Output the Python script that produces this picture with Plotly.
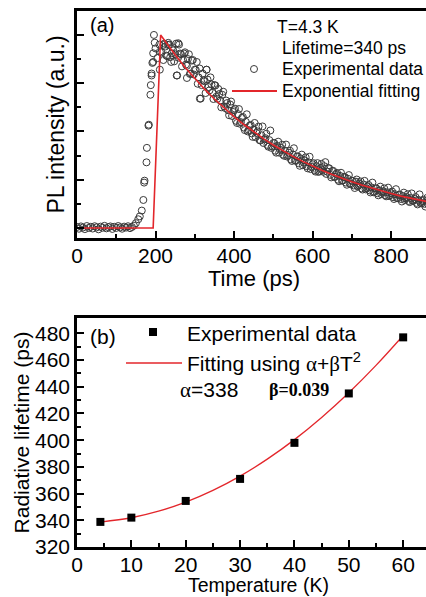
import plotly.graph_objects as go

# ---------------- data: panel (a) ----------------
exp_time = [0, 5, 10, 15, 20, 25, 30, 35, 40, 45, 50, 55, 60, 65, 70, 75, 80, 85, 90, 95,
            100, 105, 110, 115, 120, 125, 130, 135, 140, 145,
            150, 156, 160, 165, 169, 171, 172, 177, 178, 182, 183, 187, 188, 190, 192, 194, 196, 198,
            194, 190, 211, 211, 220, 232, 241, 258, 254, 280, 313, 330,
            200, 205, 210, 215, 220, 225, 230, 235, 240, 245, 250, 255, 260, 265, 270, 275, 280, 285, 290, 295,
            300, 305, 310, 315, 320, 325, 330, 335, 340, 345, 350, 355, 360, 365, 370, 375, 380, 385, 390, 395,
            400, 405, 410, 415, 420, 425, 430, 435, 440, 445, 450, 455, 460, 465, 470, 475, 480, 485, 490, 495,
            500, 505, 510, 515, 520, 525, 530, 535, 540, 545, 550, 555, 560, 565, 570, 575, 580, 585, 590, 595,
            600, 605, 610, 615, 620, 625, 630, 635, 640, 645, 650, 655, 660, 665, 670, 675, 680, 685, 690, 695,
            700, 705, 710, 715, 720, 725, 730, 735, 740, 745, 750, 755, 760, 765, 770, 775, 780, 785, 790, 795,
            800, 805, 810, 815, 820, 825, 830, 835, 840, 845, 850, 855, 860, 865, 870, 875, 880, 885, 890, 895, 900]
exp_intensity = [0.005, -0.004, 0.008, 0.002, -0.006, 0.010, 0.000, 0.006, -0.003, 0.009,
                 0.003, -0.007, 0.007, 0.001, 0.011, -0.002, 0.004, 0.008, -0.005, 0.006,
                 0.000, 0.010, 0.003, -0.004, 0.007, 0.002, 0.009, -0.001, 0.005, 0.012,
                 0.025, 0.045, 0.060, 0.090, 0.145, 0.235, 0.245, 0.340, 0.415, 0.530, 0.535, 0.690, 0.740, 0.800, 0.855, 0.905, 1.000, 0.960,
                 0.860, 0.790, 0.820, 0.913, 0.948, 0.948, 0.905, 0.957, 0.790, 0.777, 0.670, 0.820,
                 0.93, 0.88, 0.95, 0.91, 0.87, 0.94, 0.89, 0.95, 0.86, 0.92, 0.90, 0.79, 0.95, 0.90, 0.87, 0.91, 0.84, 0.90, 0.80, 0.87,
                 0.82, 0.86, 0.78, 0.67, 0.80, 0.76, 0.82, 0.73, 0.78, 0.70, 0.74, 0.68, 0.72, 0.66, 0.69, 0.63, 0.66, 0.61, 0.64, 0.58,
                 0.61, 0.555, 0.59, 0.54, 0.57, 0.52, 0.55, 0.50, 0.53, 0.49, 0.51, 0.47, 0.50, 0.455, 0.48, 0.44, 0.465, 0.43, 0.455, 0.415,
                 0.44, 0.40, 0.425, 0.39, 0.415, 0.38, 0.40, 0.37, 0.39, 0.355, 0.38, 0.35, 0.37, 0.335, 0.36, 0.325, 0.35, 0.32, 0.34, 0.305,
                 0.33, 0.30, 0.32, 0.29, 0.31, 0.30, 0.32, 0.28, 0.31, 0.275, 0.295, 0.265, 0.28, 0.25, 0.27, 0.245, 0.265, 0.235, 0.255, 0.23,
                 0.245, 0.22, 0.24, 0.215, 0.23, 0.205, 0.225, 0.20, 0.215, 0.195, 0.21, 0.185, 0.205, 0.18, 0.195, 0.175, 0.19, 0.17, 0.185, 0.165,
                 0.18, 0.16, 0.175, 0.155, 0.17, 0.15, 0.165, 0.145, 0.16, 0.14, 0.155, 0.14, 0.15, 0.13, 0.145, 0.13, 0.14, 0.125, 0.14, 0.12, 0.135]

# second (interleaved) set of recorded points in the decay region
exp_time_b = [222.5, 227.5, 232.5, 237.5, 242.5, 247.5, 252.5, 257.5, 262.5, 267.5,
              272.5, 277.5, 282.5, 287.5, 292.5, 297.5, 302.5, 307.5, 312.5, 317.5,
              322.5, 327.5, 332.5, 337.5, 342.5, 347.5, 352.5, 357.5, 362.5, 367.5,
              372.5, 377.5, 382.5, 387.5, 392.5, 397.5, 402.5, 407.5, 412.5, 417.5,
              422.5, 427.5, 432.5, 437.5, 442.5, 447.5, 452.5, 457.5, 462.5, 467.5,
              472.5, 477.5, 482.5, 487.5, 492.5, 497.5, 502.5, 507.5, 512.5, 517.5,
              522.5, 527.5, 532.5, 537.5, 542.5, 547.5, 552.5, 557.5, 562.5, 567.5,
              572.5, 577.5, 582.5, 587.5, 592.5, 597.5, 602.5, 607.5, 612.5, 617.5,
              622.5, 627.5, 632.5, 637.5, 642.5, 647.5, 652.5, 657.5, 662.5, 667.5,
              672.5, 677.5, 682.5, 687.5, 692.5, 697.5, 702.5, 707.5, 712.5, 717.5,
              722.5, 727.5, 732.5, 737.5, 742.5, 747.5, 752.5, 757.5, 762.5, 767.5,
              772.5, 777.5, 782.5, 787.5, 792.5, 797.5, 802.5, 807.5, 812.5, 817.5,
              822.5, 827.5, 832.5, 837.5, 842.5, 847.5, 852.5, 857.5, 862.5, 867.5,
              872.5, 877.5, 882.5, 887.5, 892.5, 897.5]
exp_intensity_b = [0.955, 0.893, 0.959, 0.885, 0.937, 0.863, 0.955, 0.882, 0.904, 0.837,
                   0.904, 0.847, 0.875, 0.798, 0.867, 0.795, 0.819, 0.747, 0.826, 0.740,
                   0.765, 0.699, 0.769, 0.713, 0.743, 0.668, 0.738, 0.669, 0.694, 0.625,
                   0.706, 0.621, 0.647, 0.584, 0.655, 0.601, 0.618, 0.544, 0.616, 0.548,
                   0.575, 0.507, 0.589, 0.507, 0.534, 0.472, 0.544, 0.492, 0.525, 0.453,
                   0.526, 0.459, 0.488, 0.421, 0.505, 0.423, 0.440, 0.390, 0.447, 0.405,
                   0.431, 0.374, 0.432, 0.378, 0.400, 0.347, 0.413, 0.348, 0.371, 0.322,
                   0.380, 0.339, 0.366, 0.309, 0.369, 0.316, 0.336, 0.292, 0.336, 0.295,
                   0.332, 0.291, 0.341, 0.292, 0.309, 0.262, 0.296, 0.265, 0.285, 0.242,
                   0.286, 0.246, 0.263, 0.224, 0.274, 0.226, 0.243, 0.207, 0.251, 0.221,
                   0.241, 0.199, 0.244, 0.205, 0.223, 0.184, 0.235, 0.187, 0.205, 0.169,
                   0.214, 0.184, 0.205, 0.164, 0.209, 0.170, 0.189, 0.150, 0.201, 0.154,
                   0.173, 0.137, 0.183, 0.153, 0.175, 0.134, 0.179, 0.141, 0.160, 0.122,
                   0.174, 0.127, 0.146, 0.111, 0.157, 0.128]

fit_time = [0, 194, 213, 225, 250, 275, 300, 325, 350, 375, 400, 425, 450, 475, 500, 525, 550, 575,
            600, 625, 650, 675, 700, 725, 750, 775, 800, 825, 850, 875, 900]
fit_intensity = [0.0, 0.0, 1.0, 0.965, 0.897, 0.833, 0.774, 0.719, 0.668, 0.621, 0.577, 0.536, 0.498,
                 0.463, 0.430, 0.399, 0.371, 0.345, 0.320, 0.298, 0.277, 0.257, 0.239, 0.222, 0.206,
                 0.191, 0.178, 0.165, 0.154, 0.143, 0.133]

time_ticks = [0, 200, 400, 600, 800]
time_minor = [100, 300, 500, 700]
int_ticks = [0, 0.25, 0.5, 0.75, 1.0]
int_minor = [0.125, 0.375, 0.625, 0.875]

# ---------------- data: panel (b) ----------------
temperature = [4.3, 10, 20, 30, 40, 50, 60]
lifetime = [338.8, 342, 354.5, 371, 398, 435, 477]

fit_temp = [4.3, 10, 15, 20, 25, 30, 35, 40, 45, 50, 55, 60]
fit_lifetime = [338.7, 341.9, 346.8, 353.6, 362.4, 373.1, 385.8, 400.4, 417.0, 435.5, 456.0, 478.4]

temp_ticks = [0, 10, 20, 30, 40, 50, 60]
temp_minor = [5, 15, 25, 35, 45, 55]
life_ticks = [320, 340, 360, 380, 400, 420, 440, 460, 480]
life_minor = [330, 350, 370, 390, 410, 430, 450, 470]

# ---------------- layout geometry (pixels) ----------------
W, H = 426, 597
ML, MR, MT, MB = 77, 0, 11, 50
PW, PH = W - ML - MR, H - MT - MB


def px(x):
    return (x - ML) / PW


def py(y):
    return (H - MB - y) / PH


FONT = "Liberation Sans, Arial, sans-serif"
SERIF = "Liberation Serif, Times New Roman, serif"
RED = "#e3262b"
CIRC = "#3a3a3a"

fig = go.Figure()

circle_marker = dict(symbol="circle-open", size=7, color=CIRC, line=dict(width=1))
fig.add_trace(go.Scatter(x=exp_time, y=exp_intensity, mode="markers", xaxis="x", yaxis="y",
                         marker=circle_marker, showlegend=False))
fig.add_trace(go.Scatter(x=exp_time_b, y=exp_intensity_b, mode="markers", xaxis="x", yaxis="y",
                         marker=circle_marker, showlegend=False))
fig.add_trace(go.Scatter(x=fit_time, y=fit_intensity, mode="lines", xaxis="x", yaxis="y",
                         line=dict(color=RED, width=1.6), showlegend=False))

fig.add_trace(go.Scatter(x=fit_temp, y=fit_lifetime, mode="lines", xaxis="x2", yaxis="y2",
                         line=dict(color=RED, width=1.3, shape="spline"), showlegend=False))
fig.add_trace(go.Scatter(x=temperature, y=lifetime, mode="markers", xaxis="x2", yaxis="y2",
                         marker=dict(symbol="square", size=8, color="black"), showlegend=False))

axis_common = dict(showline=True, linecolor="black", linewidth=2.5, ticks="inside",
                   tickcolor="black", tickwidth=2, ticklen=7, showgrid=False, zeroline=False,
                   automargin=False,
                   tickfont=dict(family=FONT, size=21, color="black"))
minor_common = dict(ticks="inside", ticklen=4, tickwidth=2, tickcolor="black", showgrid=False)

fig.update_layout(
    width=W, height=H,
    margin=dict(l=ML, r=MR, t=MT, b=MB, autoexpand=False),
    paper_bgcolor="white", plot_bgcolor="white",
    font=dict(family=FONT, color="black"),
    xaxis=dict(domain=[0, 1], anchor="y", range=[0, 889], tickmode="array", tickvals=time_ticks,
               mirror=True, minor=dict(tickvals=time_minor, **minor_common), ticklabelstandoff=-3,
               **axis_common),
    yaxis=dict(domain=[py(238), py(11)], anchor="x", range=[-0.052, 1.124], tickmode="array",
               tickvals=int_ticks, showticklabels=False,
               minor=dict(tickvals=int_minor, **minor_common),
               title=dict(text="PL intensity (a.u.)", font=dict(family=FONT, size=23), standoff=4),
               **axis_common),
    xaxis2=dict(domain=[0, 1], anchor="y2", range=[0, 64.2], tickmode="array", tickvals=temp_ticks,
                mirror=True, minor=dict(tickvals=temp_minor, **minor_common), ticklabelstandoff=-3,
                **axis_common),
    yaxis2=dict(domain=[0, py(318)], anchor="x2", range=[320, 491.5], tickmode="array",
                tickvals=life_ticks, minor=dict(tickvals=life_minor, **minor_common),
                title=dict(text="Radiative lifetime (ps)", font=dict(family=FONT, size=21), standoff=0),
                **axis_common),
)


def label(x, y, text, size, anchor="left", family=FONT):
    fig.add_annotation(xref="paper", yref="paper", x=px(x), y=py(y), text=text, showarrow=False,
                       xanchor=anchor, yanchor="middle",
                       font=dict(family=family, size=size, color="black"), borderpad=0)


# x-axis titles
label(254, 278, "Time (ps)", 22, anchor="center")
label(258, 585, "Temperature (K)", 19.5, anchor="center")

# panel (a) texts
label(89, 25, "(a)", 20)
label(276, 27, "T=4.3 K", 17.5)
label(281, 48, "Lifetime=340 ps", 17.5)
label(281, 69, "Experimental data", 17.5)
label(281, 91, "Exponential fitting", 17.5)

# panel (b) texts
label(89, 336, "(b)", 21)
label(186, 333, "Experimental data", 21)
label(186, 362,
      f"Fitting using <span style='font-family:{SERIF}'>α</span>+"
      f"<span style='font-family:{SERIF}'>β</span>T<sup>2</sup>", 21)
label(179, 390, f"<span style='font-family:{SERIF}'>α</span>=338", 21)
label(268, 390, "<b>β=0.039</b>", 18, family=SERIF)

# legend swatches
shapes = [
    dict(type="circle", xref="paper", yref="paper", x0=px(250.5), x1=px(257.5), y0=py(72.5), y1=py(65.5),
         line=dict(color=CIRC, width=1)),
    dict(type="line", xref="paper", yref="paper", x0=px(232), x1=px(277), y0=py(91), y1=py(91),
         line=dict(color=RED, width=1.8)),
    dict(type="rect", xref="paper", yref="paper", x0=px(149), x1=px(157), y0=py(336), y1=py(328),
         line=dict(width=0), fillcolor="black"),
    dict(type="line", xref="paper", yref="paper", x0=px(126), x1=px(182), y0=py(363), y1=py(363),
         line=dict(color=RED, width=1.5)),
]
fig.update_layout(shapes=shapes)

fig.write_html("out.html", config={"displayModeBar": False},
               post_script="document.body.style.margin='0';document.body.style.padding='0';"
                           "document.body.style.overflow='hidden';")
